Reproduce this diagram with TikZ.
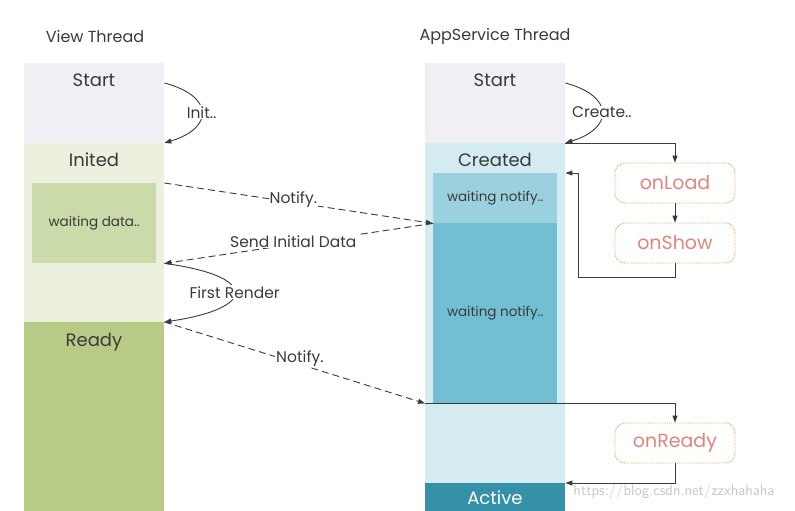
\documentclass[tikz,border=0pt]{standalone}
\usepackage{fontspec}
\setmainfont{Poppins}
\usetikzlibrary{arrows.meta,positioning,calc}
\definecolor{textgrey}{HTML}{3A3A3A}
\definecolor{startgrey}{HTML}{F0EFF5}
\definecolor{initedlight}{HTML}{EBF0DF}
\definecolor{waitgreen}{HTML}{CBDAA9}
\definecolor{readygreen}{HTML}{B7CB87}
\definecolor{createdlight}{HTML}{D3EBF1}
\definecolor{notifylight}{HTML}{9BD0DE}
\definecolor{notifymid}{HTML}{72BFD3}
\definecolor{activeteal}{HTML}{3591A8}
\definecolor{hookborder}{HTML}{F0A060}
\definecolor{hooktext}{HTML}{E0857C}

\begin{document}
\begin{tikzpicture}[x=1pt, y=-1pt,
  region/.style={rectangle, draw=none, inner sep=0pt, anchor=north west,
    minimum width=140pt},
  inner/.style={region, minimum width=124pt},
  statetext/.style={anchor=base, text=textgrey, font=\fontsize{18}{20}\selectfont},
  waittext/.style={text=textgrey, font=\fontsize{13.5}{15}\selectfont},
  titletext/.style={text=textgrey, font=\fontsize{16}{18}\selectfont},
  edgetext/.style={text=textgrey, fill=white, inner sep=1pt, font=\fontsize{15.5}{17}\selectfont},
  hookbox/.style={rectangle, rounded corners=10pt, draw=hookborder, densely dotted,
    line width=0.9pt, minimum width=120pt, minimum height=40pt, text=hooktext,
    font=\fontsize{19}{21}\selectfont},
  flow/.style={draw=textgrey, line width=0.9pt, -{Triangle[length=7pt,width=5pt]}},
  msg/.style={flow, dash pattern=on 7pt off 4pt}
]
\useasboundingbox (0,0) rectangle (795,511);

% View thread column
\node[titletext] (vtitle) at (95,36) {View Thread};
\node[region, fill=startgrey, minimum height=80pt] (vstart) at (24,63) {};
\node[region, fill=initedlight, minimum height=179pt] (vinited) at (24,143) {};
\node[inner, fill=waitgreen, minimum height=80pt] (vwait) at (32,183) {};
\node[region, fill=readygreen, minimum height=189pt] (vready) at (24,322) {};
\node[statetext] (vstartlbl) at (94,86) {Start};
\node[statetext] (vinitedlbl) at (94,166) {Inited};
\node[waittext] (vwaitlbl) at (vwait.center) {waiting data..};
\node[statetext] (vreadylbl) at (94,346) {Ready};

% AppService thread column
\node[titletext] (atitle) at (495,36) {AppService Thread};
\node[region, fill=startgrey, minimum height=80pt] (astart) at (425,63) {};
\node[region, fill=createdlight, minimum height=340pt] (acreated) at (425,143) {};
\node[inner, fill=notifylight, minimum height=50pt] (anotify1) at (433,173) {};
\node[inner, fill=notifymid, minimum height=180pt] (anotify2) at (433,223) {};
\node[region, fill=activeteal, minimum height=28pt] (aactive) at (425,483) {};
\node[statetext] (astartlbl) at (495,86) {Start};
\node[statetext] (acreatedlbl) at (495,166) {Created};
\node[waittext] (anotify1lbl) at (anotify1.center) {waiting notify..};
\node[waittext] (anotify2lbl) at (anotify2.center) {waiting notify..};
\node[statetext, text=white] (aactivelbl) at (495,504) {Active};

% Page lifecycle hooks
\node[hookbox] (onload) at (675,183) {onLoad};
\node[hookbox] (onshow) at (675,243) {onShow};
\node[hookbox] (onready) at (675,443) {onReady};

% Transitions inside each thread
\draw[flow] ($(vstart.north east)+(0,20)$) .. controls (214,96) and (214,128) .. (vinited.north east)
  node[edgetext, pos=0.5] {Init..};
\draw[flow] ($(astart.north east)+(0,20)$) .. controls (614,96) and (614,128) .. (acreated.north east)
  node[edgetext, pos=0.5] {Create..};
\draw[flow] (vinited.east |- vwait.south) .. controls (258,276) and (258,308) .. (vready.north east)
  node[edgetext, pos=0.5] {First Render};

% Messages between the threads
\draw[msg] (vinited.east |- vwait.north) -- (anotify1.south west)
  node[edgetext, pos=0.48, yshift=3pt] {Notify.};
\draw[msg] (anotify1.south west) -- (vinited.east |- vwait.south)
  node[edgetext, pos=0.52, yshift=3pt] {Send Initial Data};
\coordinate (readymsg) at (acreated.west |- anotify2.south);
\draw[msg] (vready.north east) -- (readymsg)
  node[edgetext, pos=0.52, yshift=6pt] {Notify.};

% Hook calls
\coordinate (showret) at (578,277);
\draw[flow] (astart.south east) -| (onload.north);
\draw[flow] (onload.south) -- (onshow.north);
\draw[flow] (onshow.south) |- (showret) |- (acreated.east |- anotify1.north);
\draw[flow] (readymsg) -| (onready.north);
\draw[flow] (onready.south) |- (aactive.north east);

\node[text=gray!45, font=\fontsize{15}{17}\selectfont\sffamily] (mark) at (674,492) {https://blog.csdn.net/zzxhahaha};
\end{tikzpicture}
\end{document}
